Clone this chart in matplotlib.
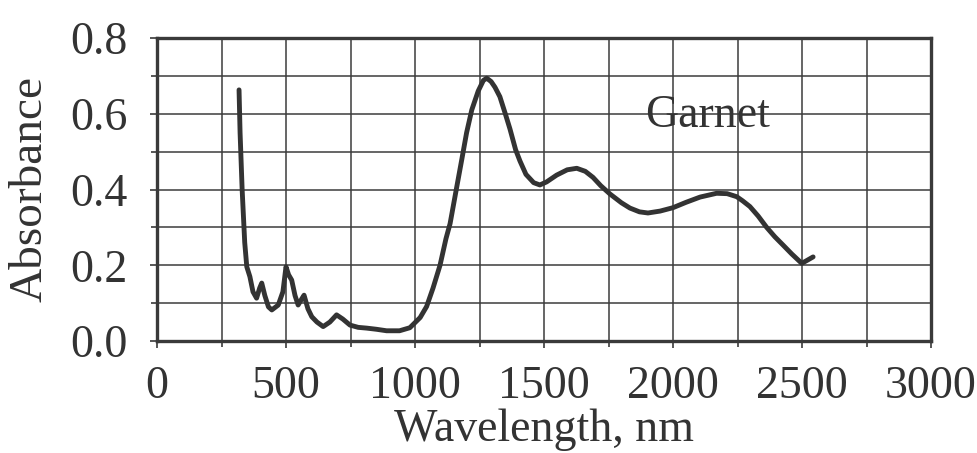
import matplotlib.pyplot as plt
from matplotlib.ticker import MultipleLocator

# Garnet absorbance spectrum
wavelength = [318, 322, 330, 340, 348, 360, 372, 386, 398, 406, 418, 432, 445, 470,
              488, 500, 510, 522, 535, 547, 560, 570, 585, 600, 620, 644, 670, 696,
              720, 748, 780, 813, 850, 890, 940, 980, 1020, 1045, 1070, 1097, 1120,
              1136, 1160, 1181, 1200, 1220, 1245, 1265, 1278, 1295, 1310, 1329, 1350,
              1368, 1390, 1407, 1430, 1460, 1484, 1510, 1549, 1590, 1627, 1660, 1690,
              1720, 1756, 1800, 1833, 1870, 1903, 1950, 2000, 2050, 2105, 2169, 2210,
              2247, 2270, 2298, 2330, 2363, 2395, 2427, 2460, 2499, 2520, 2543]
absorbance = [0.663, 0.55, 0.40, 0.26, 0.196, 0.17, 0.13, 0.113, 0.14, 0.153, 0.12,
              0.09, 0.082, 0.095, 0.13, 0.196, 0.175, 0.161, 0.12, 0.095, 0.11, 0.121,
              0.085, 0.064, 0.05, 0.038, 0.05, 0.069, 0.058, 0.042, 0.036, 0.034, 0.031,
              0.027, 0.027, 0.035, 0.062, 0.091, 0.14, 0.2, 0.27, 0.31, 0.40, 0.478,
              0.55, 0.61, 0.66, 0.688, 0.694, 0.685, 0.67, 0.645, 0.60, 0.56, 0.505,
              0.475, 0.44, 0.418, 0.412, 0.42, 0.438, 0.452, 0.456, 0.448, 0.432, 0.41,
              0.388, 0.365, 0.351, 0.341, 0.338, 0.343, 0.352, 0.366, 0.380, 0.39, 0.389,
              0.381, 0.37, 0.355, 0.33, 0.30, 0.275, 0.253, 0.23, 0.205, 0.213, 0.222]

x_ticks = [0, 500, 1000, 1500, 2000, 2500, 3000]
y_ticks = [0.0, 0.2, 0.4, 0.6, 0.8]

plt.rcParams['font.family'] = ['Liberation Serif', 'DejaVu Serif']

fig = plt.figure(figsize=(9.77, 4.53), dpi=100)
ax = fig.add_axes([157 / 977, 1 - 341 / 453, (931 - 157) / 977, (341 - 38) / 453])

ax.plot(wavelength, absorbance, color='#333333', lw=3.5,
        solid_joinstyle='round', solid_capstyle='round', zorder=3)

ax.set_xlim(0, 3000)
ax.set_ylim(0, 0.8)
ax.set_xticks(x_ticks)
ax.set_yticks(y_ticks)
ax.set_yticklabels(['%.1f' % v for v in y_ticks])
ax.xaxis.set_minor_locator(MultipleLocator(250))
ax.yaxis.set_minor_locator(MultipleLocator(0.1))

ax.grid(True, which='both', color='#3c3c3c', lw=1.1)
ax.set_axisbelow(True)

for s in ax.spines.values():
    s.set_color('#3a3a3a')
    s.set_linewidth(2.4)

ax.tick_params(which='major', length=5, width=1.2, color='#3a3a3a',
               labelsize=33, labelcolor='#333333')
ax.tick_params(axis='x', which='major', pad=13)
ax.tick_params(axis='y', which='major', pad=16)
ax.tick_params(which='minor', length=4, width=1.2, color='#3a3a3a')

ax.set_xlabel('Wavelength, nm', fontsize=33, color='#333333', labelpad=0)
ax.set_ylabel('Absorbance', fontsize=34, color='#333333', labelpad=14)

ax.text(1891, 0.595, 'Garnet', fontsize=33, color='#333333', va='center', ha='left')

fig.savefig('out.png', dpi=100)
